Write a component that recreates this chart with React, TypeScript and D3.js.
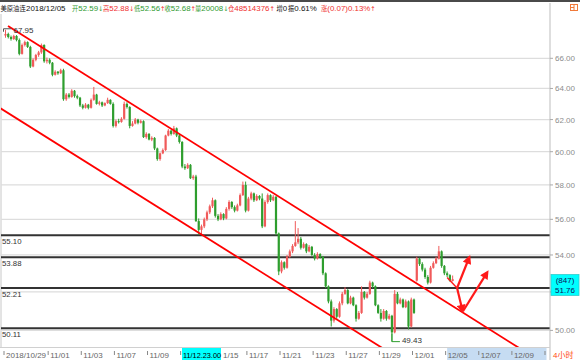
import React from "react";
import * as d3 from "d3";

const opens = [67.55,67.66,67.45,67.31,67.52,67.24,66.30,66.90,67.10,66.77,
65.45,65.90,66.22,66.40,66.90,65.80,65.90,65.70,64.90,65.10,
65.00,65.20,63.30,63.60,63.45,63.85,63.50,63.40,62.90,62.75,
62.95,62.75,63.26,63.60,63.00,63.10,62.90,63.05,63.26,63.00,
61.60,61.90,61.85,62.05,63.00,62.80,61.60,61.75,62.00,61.80,
61.90,60.90,61.10,60.75,60.85,60.20,59.55,59.90,60.10,61.00,
61.30,61.10,61.45,61.00,60.60,59.10,59.00,59.20,58.40,58.50,
55.90,55.40,55.60,56.00,56.40,56.75,57.10,56.20,56.00,56.30,
56.05,56.60,57.00,56.70,56.50,56.80,57.40,58.00,56.50,57.20,
57.50,57.10,57.35,57.20,55.60,57.00,57.40,57.10,57.30,55.20,
53.10,53.60,53.30,53.90,54.20,54.50,54.70,54.90,54.40,54.60,
54.20,54.45,54.00,53.80,54.05,53.90,53.00,52.30,51.50,50.50,
51.10,50.70,51.40,51.90,52.10,51.40,51.70,51.30,50.60,50.90,
52.00,51.70,51.90,52.50,52.30,51.30,50.90,50.60,51.00,50.60,
50.75,49.90,51.90,51.40,51.60,51.20,51.50,50.20,51.60,52.60,
53.80,53.50,53.20,52.80,52.50,53.30,53.55,53.80,54.20,53.40,
53.00,52.90,52.59];

const highs = [67.95,67.75,67.55,67.60,67.58,67.35,67.00,67.20,67.15,66.85,
66.00,66.30,66.50,67.00,66.95,66.05,66.00,65.75,65.20,65.15,
65.30,65.30,63.70,63.70,63.95,63.90,63.60,63.45,63.00,63.05,
63.00,63.35,64.10,63.65,63.20,63.15,63.10,63.40,63.30,63.10,
62.00,62.05,62.15,63.15,63.10,62.85,61.90,62.10,62.05,62.00,
61.95,61.20,61.15,60.95,60.90,60.25,59.95,60.20,61.05,61.40,
61.35,61.60,61.50,61.10,60.65,59.25,59.30,59.25,58.60,58.60,
56.05,55.70,56.10,56.50,56.85,57.25,57.15,56.30,56.40,56.35,
56.70,57.10,57.05,56.80,56.90,57.50,58.20,58.20,57.30,57.60,
57.55,57.45,57.40,57.50,57.10,57.50,57.45,57.40,57.35,55.25,
53.70,53.65,54.00,54.30,54.60,55.90,55.50,55.00,54.70,54.65,
54.55,54.50,54.10,54.15,54.10,53.95,53.05,52.35,51.60,51.20,
51.15,51.50,52.00,52.25,52.15,51.80,51.75,51.35,51.00,52.30,
52.05,52.00,52.60,52.55,52.35,51.35,51.10,51.10,51.05,50.85,
50.80,52.10,52.00,51.70,51.65,51.60,51.55,51.70,51.65,53.90,
53.85,53.60,53.30,52.90,53.40,53.65,53.90,54.50,54.25,53.45,
53.10,52.95,52.88];

const lows = [67.40,67.35,67.20,67.25,67.15,66.20,66.25,66.80,66.70,65.35,
65.40,65.80,66.10,66.30,65.70,65.65,65.60,64.80,64.85,64.90,
64.95,63.20,63.20,63.35,63.40,63.40,63.30,62.80,62.65,62.70,
62.65,62.70,63.20,62.95,62.90,62.80,62.85,63.00,62.95,61.50,
61.50,61.75,61.80,62.00,62.70,61.45,61.55,61.70,61.70,61.75,
60.85,60.80,60.70,60.65,60.10,59.45,59.45,59.85,60.05,60.95,
61.00,61.05,60.90,60.50,59.00,58.90,58.95,58.35,58.30,55.85,
55.12,55.15,55.50,55.90,56.30,56.65,56.10,55.90,55.95,55.95,
56.00,56.50,56.60,56.40,56.45,56.75,57.35,56.40,56.45,57.10,
57.00,57.05,57.10,55.50,55.55,56.90,57.00,57.05,55.10,52.90,
53.00,53.20,53.25,53.85,54.10,54.45,54.60,54.30,54.35,54.10,
54.15,53.95,53.70,53.75,53.80,52.90,52.20,51.40,50.20,50.40,
50.60,50.65,51.30,51.85,51.35,51.35,51.25,50.45,50.55,50.85,
51.60,51.65,51.85,52.20,51.25,50.85,50.45,50.55,50.50,50.55,
49.43,49.85,51.35,51.35,51.15,51.15,50.05,50.15,50.85,52.55,
53.40,53.10,52.70,52.40,52.45,53.25,53.50,53.75,53.30,52.90,
52.80,52.55,52.56];

const closes = [67.66,67.45,67.31,67.52,67.24,66.30,66.90,67.10,66.77,65.45,
65.90,66.22,66.40,66.90,65.80,65.90,65.70,64.90,65.10,65.00,
65.20,63.30,63.60,63.45,63.85,63.50,63.40,62.90,62.75,62.95,
62.75,63.26,63.60,63.00,63.10,62.90,63.05,63.26,63.00,61.60,
61.90,61.85,62.05,63.00,62.80,61.60,61.75,62.00,61.80,61.90,
60.90,61.10,60.75,60.85,60.20,59.55,59.90,60.10,61.00,61.30,
61.10,61.45,61.00,60.60,59.10,59.00,59.20,58.40,58.50,55.90,
55.40,55.60,56.00,56.40,56.75,57.10,56.20,56.00,56.30,56.05,
56.60,57.00,56.70,56.50,56.80,57.40,58.00,56.50,57.20,57.50,
57.10,57.35,57.20,55.60,57.00,57.40,57.10,57.30,55.20,53.10,
53.60,53.30,53.90,54.20,54.50,54.70,54.90,54.40,54.60,54.20,
54.45,54.00,53.80,54.05,53.90,53.00,52.30,51.50,50.50,51.10,
50.70,51.40,51.90,52.10,51.40,51.70,51.30,50.60,50.90,52.00,
51.70,51.90,52.50,52.30,51.30,50.90,50.60,51.00,50.60,50.75,
49.90,51.90,51.40,51.60,51.20,51.50,50.20,51.60,50.90,53.80,
53.50,53.20,52.80,52.50,53.30,53.55,53.80,54.20,53.40,53.00,
52.90,52.60,52.68];

const xTickIndex = [0,16,28,40,52,64,76,88,100,112,124,136,148,160,172,184,196];
const xTickLabels = ["2018/10/29","11/01","11/03","11/07","11/09","11/13","11/15","11/17","11/21","11/23","11/27","11/29","12/01","12/05","12/07","12/09",""];
const yTicks = [50,52,54,56,58,60,62,64,66];
const levels = [55.10, 53.88, 52.21, 50.11];

// trend channel lines: [index, price]
const upperLine = [[0.91, 68.21],[192, 48.6]];
const lowerLine = [[-2, 62.74],[143, 48.55]];
// hand-drawn arrows: [index, price]
const guideSeg = [[160.0, 52.77],[163.6, 52.21]];
const arrowUp1 = [[163.6, 52.21],[168.0, 53.86]];
const arrowDown = [[163.6, 52.21],[165.6, 51.0]];
const arrowUp2 = [[165.8, 51.0],[174.5, 53.05]];

const highLabel = "67.95";
const lowLabel = "49.43";
const cursorLabel = "11/12.23.00";
const priceBox = ["(847)", "51.76"];
const priceBoxValue = 51.76;
const futureStart = 160;
const futureEnd = 196;

const RED = "#f05a5a";
const GREEN = "#2e9e2e";
const HRED = "#f03030";
const HGREEN = "#2f9a2f";
const BLK = "#111";

// header parts: [text, colour, kind] where kind: c = CJK, n = number, a = arrow
type Part = [string, string, "c" | "n" | "a"];
const headerGroups: { parts: Part[]; x: number }[] = [
  { parts: [["美原油连", BLK, "c"]], x: 0.5 },
  { parts: [["2018/12/05", BLK, "n"]], x: 26 },
  { parts: [["开", HGREEN, "c"], ["52.59", HGREEN, "n"], ["↓", HGREEN, "a"]], x: 72 },
  { parts: [["高", HRED, "c"], ["52.88", HRED, "n"], ["↓", HRED, "a"]], x: 103 },
  { parts: [["低", HGREEN, "c"], ["52.56", HGREEN, "n"], ["↑", HRED, "a"]], x: 134 },
  { parts: [["收", HGREEN, "c"], ["52.68", HGREEN, "n"], ["↑", HRED, "a"]], x: 164.5 },
  { parts: [["量", HGREEN, "c"], ["20008", HGREEN, "n"], ["↓", HGREEN, "a"]], x: 195 },
  { parts: [["仓", HRED, "c"], ["48514376", HRED, "n"], ["↑", HRED, "a"]], x: 228 },
  { parts: [["增", BLK, "c"], ["0", BLK, "n"]], x: 276.5 },
  { parts: [["振", BLK, "c"], ["0.61%", BLK, "n"]], x: 288 },
  { parts: [["涨", HRED, "c"], ["(0.07)0.13%", HRED, "n"], ["↑", HRED, "a"]], x: 321 },
];

export default function App() {
  const x = d3.scaleLinear().domain([0, 196]).range([5.5, 546.5]);
  const y = d3.scaleLog().domain([50, 66]).range([330.4, 58.3]);
  const axisX = 550;
  const plotBottom = 347;
  const n = closes.length;
  const idx = d3.range(n);
  const line = d3.line<number[]>().x(d => x(d[0])).y(d => y(d[1]));

  const lowIdx = lows.indexOf(d3.min(lows) as number);
  const hiIdx = highs.indexOf(d3.max(highs) as number);

  const partStyle = (k: string) =>
    k === "c" ? { fontSize: 6.3, fontFamily: "'Noto Sans CJK SC', sans-serif" }
      : k === "a" ? { fontSize: 6.4, fontFamily: "'DejaVu Sans', sans-serif" }
        : { fontSize: 7.9, fontFamily: "'Liberation Sans', Arial, sans-serif" };

  return (
    <div style={{ position: "fixed", left: 0, top: 0 }}>
      <svg width={580} height={360} style={{ display: "block", background: "#fff" }}
        fontFamily="'Liberation Sans', Arial, 'Noto Sans CJK SC', sans-serif">
        <defs>
          <clipPath id="plot"><rect x={1} y={14} width={axisX - 1} height={plotBottom - 14} /></clipPath>
          <marker id="ah" viewBox="0 0 10 10" refX="7" refY="5" markerWidth="4.5" markerHeight="4" orient="auto">
            <path d="M0,0 L10,5 L0,10 z" fill="#ff1a1a" />
          </marker>
        </defs>
        <rect x={0} y={0} width={580} height={360} fill="#fff" />
        <line x1={0} x2={580} y1={1} y2={1} stroke="#4a4a4a" strokeWidth={2} />
        <line x1={1} x2={1} y1={14} y2={plotBottom} stroke="#c8c8c8" />
        {yTicks.map(t => (
          <line key={"g" + t} x1={1} x2={axisX} y1={y(t)} y2={y(t)} stroke="#dddddd" strokeWidth={1.2} />
        ))}
        {levels.map(l => (
          <g key={"l" + l}>
            <line x1={1} x2={axisX} y1={y(l)} y2={y(l)} stroke="#333" strokeWidth={2} />
            <text x={2} y={y(l) + 9} fontSize={7.8} fill="#333">{l.toFixed(2)}</text>
          </g>
        ))}
        <g clipPath="url(#plot)">
          {idx.map(i => {
            const up = closes[i] >= opens[i];
            const col = up ? RED : GREEN;
            const cx = x(i);
            const top = y(Math.max(opens[i], closes[i]));
            const bot = y(Math.min(opens[i], closes[i]));
            return (
              <g key={i}>
                <line x1={cx} x2={cx} y1={y(highs[i])} y2={y(lows[i])} stroke={col} strokeWidth={1} />
                <rect x={cx - 1.1} y={top} width={2.2} height={Math.max(1, bot - top)} fill={col} />
              </g>
            );
          })}
          <path d={line(upperLine) || ""} stroke="#ff0000" strokeWidth={1.8} fill="none" />
          <path d={line(lowerLine) || ""} stroke="#ff0000" strokeWidth={1.8} fill="none" />
          <path d={line(guideSeg) || ""} stroke="#ff1a1a" strokeWidth={1.4} fill="none" />
          <path d={line(arrowUp1) || ""} stroke="#ff1a1a" strokeWidth={2.2} fill="none" markerEnd="url(#ah)" />
          <path d={line(arrowDown) || ""} stroke="#ff1a1a" strokeWidth={2.2} fill="none" markerEnd="url(#ah)" />
          <path d={line(arrowUp2) || ""} stroke="#ff1a1a" strokeWidth={2.2} fill="none" markerEnd="url(#ah)" />
        </g>
        <path d={`M${x(hiIdx) - 2},${y(highs[hiIdx]) + 2} V${y(highs[hiIdx]) - 1} H${x(hiIdx) + 6}`} stroke="#555" fill="none" />
        <text x={x(hiIdx) + 8} y={y(highs[hiIdx]) + 3} fontSize={8} fill="#333">{highLabel}</text>
        <path d={`M${x(lowIdx)},${y(lows[lowIdx]) - 8} V${y(lows[lowIdx])} H${x(lowIdx) + 8}`} stroke={GREEN} fill="none" />
        <text x={x(lowIdx) + 10} y={y(lows[lowIdx]) + 1} fontSize={8} fill="#333">{lowLabel}</text>

        <line x1={axisX} x2={axisX} y1={3} y2={360} stroke="#bdbdbd" />
        {yTicks.map(t => (
          <g key={"t" + t}>
            <line x1={axisX} x2={axisX + 3} y1={y(t)} y2={y(t)} stroke="#aaa" />
            <text x={axisX + 5} y={y(t) + 3} fontSize={8} fill="#8c8c8c">{t.toFixed(2)}</text>
          </g>
        ))}
        <rect x={551} y={y(priceBoxValue) - 22} width={28} height={21} fill="#00ffff" stroke="#3cc" strokeWidth={0.8} />
        <text x={565} y={y(priceBoxValue) - 13} fontSize={8} fill="#10105a" textAnchor="middle">{priceBox[0]}</text>
        <text x={565} y={y(priceBoxValue) - 3} fontSize={8} fill="#10105a" textAnchor="middle">{priceBox[1]}</text>

        <line x1={0} x2={axisX} y1={plotBottom + 0.5} y2={plotBottom + 0.5} stroke="#d0d0d0" />
        <rect x={x(futureStart)} y={348} width={x(futureEnd) - x(futureStart)} height={12} fill="#c6dcf2" />
        {xTickIndex.map((ti, k) => (
          <g key={"x" + k}>
            <line x1={x(ti) - 1.5} x2={x(ti) - 1.5} y1={351} y2={355} stroke="#888" />
            {k !== 5 && k !== 6 && (
              <text x={x(ti) + 0.5} y={358} fontSize={8} fill="#666">{xTickLabels[k]}</text>
            )}
          </g>
        ))}
        <rect x={182} y={348} width={39} height={12} fill="#00ffff" />
        <text x={183} y={358} fontSize={7.3} fill="#000">{cursorLabel}</text>
        <text x={223} y={358} fontSize={8} fill="#666">{xTickLabels[6].slice(1)}</text>
        <text x={553} y={358} fontSize={8} fill="#ff4a10">4小时</text>

        {headerGroups.map((g, k) => (
          <text key={"h" + k} x={g.x} y={11}>
            {g.parts.map((p, j) => (
              <tspan key={j} fill={p[1]} {...partStyle(p[2])}>{p[0]}</tspan>
            ))}
          </text>
        ))}
        <rect x={570.5} y={4.5} width={7} height={6} fill="none" stroke="#f07a3a" />
        <line x1={570.5} x2={574} y1={7.5} y2={7.5} stroke="#f07a3a" />
        <line x1={574} x2={574} y1={4.5} y2={10.5} stroke="#f07a3a" />
      </svg>
    </div>
  );
}
